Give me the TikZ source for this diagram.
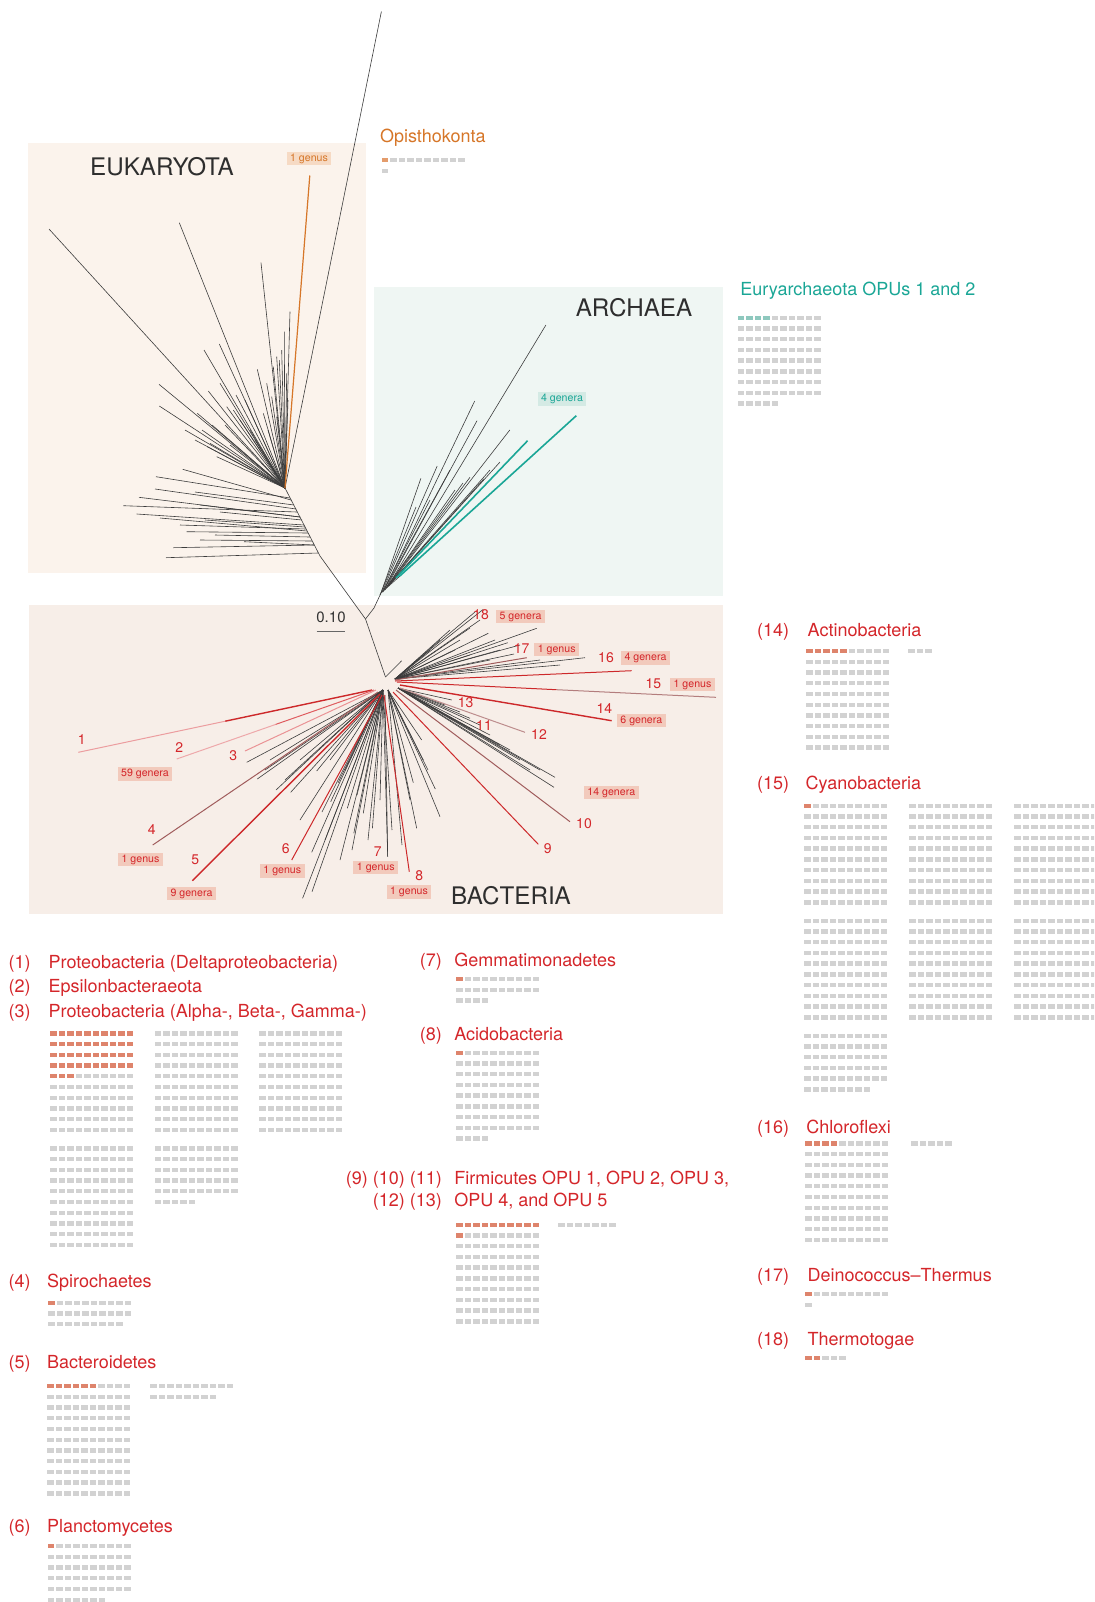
\documentclass[tikz,border=0pt]{standalone}
\usepackage{fontspec}
\setmainfont{TeX Gyre Heros}
\usetikzlibrary{positioning}

\definecolor{txtred}{RGB}{212,38,42}
\definecolor{sqred}{RGB}{222,132,108}
\definecolor{sqgray}{RGB}{210,210,210}
\definecolor{sqteal}{RGB}{142,200,190}
\definecolor{sqorange}{RGB}{228,156,108}
\definecolor{txtteal}{RGB}{26,166,150}
\definecolor{txtorange}{RGB}{214,118,40}
\definecolor{bgeuk}{RGB}{251,243,236}
\definecolor{bgarc}{RGB}{239,246,243}
\definecolor{bgbac}{RGB}{247,238,232}
\definecolor{lblred}{RGB}{242,202,188}
\definecolor{lblorange}{RGB}{246,218,196}
\definecolor{lblteal}{RGB}{212,234,228}
\definecolor{brgray}{RGB}{60,60,60}
\definecolor{brred}{RGB}{205,40,42}
\definecolor{brmix}{RGB}{160,92,92}

% one block of squares, 10 per row: x, y of first row, count, coloured count, colour
\newcommand{\sqblock}[5]{%
  \pgfmathtruncatemacro{\sqlast}{#3-1}%
  \foreach \i in {0,...,\sqlast}{%
    \pgfmathtruncatemacro{\sqc}{mod(\i,10)}%
    \pgfmathtruncatemacro{\sqr}{floor(\i/10)}%
    \ifnum\i<#4\relax\def\sqcol{#5}\else\def\sqcol{sqgray}\fi
    \fill[\sqcol] ({#1+\sqc*8.5},{#2+\sqr*10.74-2.2}) rectangle +(6.6,4.4);
  }%
}

\begin{document}
\begin{tikzpicture}[x=0.5pt,y=-0.5pt,
  bigtaxon/.style={font=\fontsize{12.1}{12}\selectfont, text=black!82, anchor=base, inner sep=0pt},
  title/.style={font=\fontsize{9}{10}\selectfont, text=txtred, anchor=base west, inner sep=0pt},
  numtag/.style={font=\fontsize{9}{10}\selectfont, text=txtred, inner sep=0pt},
  gen/.style={font=\fontsize{5.3}{6}\selectfont, fill=lblred, text=txtred, inner xsep=1.8pt, inner ysep=0.85pt, text height=3.9pt, text depth=1.1pt},
  brnum/.style={font=\fontsize{7}{8}\selectfont, text=txtred, inner sep=0pt},
  br/.style={draw=brgray, line width=0.3pt},
  brredline/.style={draw=brred, line width=0.5pt},
]
\clip (0,0) rectangle (1094,1602);

% domain boxes
\fill[bgeuk] (27.7,143) rectangle (366,573);
\fill[bgarc] (374,287) rectangle (723,596);
\fill[bgbac] (28.9,605) rectangle (723,914);

\node[bigtaxon] (euk) at (162,175.5) {EUKARYOTA};
\node[bigtaxon] (arc) at (634,316.5) {ARCHAEA};
\node[bigtaxon] (bac) at (511,904.5) {BACTERIA};

% tree
\coordinate (root) at (365.5,619);
\coordinate (ehub) at (285,488);
\coordinate (bhub) at (385.5,677);
\draw[br] (ehub) -- (320,556) -- (root);
\draw[br] (root) -- (374,608) -- (381,593) -- (400,576);
\draw[br] (root) -- (bhub);

% eukaryota
\draw[br] (ehub) -- (381.4,11.5);
\foreach \ex/\ey in {49/229, 179.3/222.7, 261/262.7, 290/311.7, 284.3/331.7, 276.7/356.7, 257.3/369.3, 219.3/344, 204/350, 208.3/391, 159/384.3, 159.3/406, 185/430, 207.3/446.7, 281.7/350, 279.3/360, 273.3/366.7, 266.7/383.3, 226.7/406.7, 220/383.3, 233.3/410, 197.3/413.3, 210/443.3, 216.7/456.7, 263.3/413.3, 271.7/396.7, 286.7/373.3, 276.7/416.7, 240/420, 250/430, 225/425, 195/440, 230/445, 255/440, 288/400, 245/400, 236/395, 212/425, 202/430, 268/430}
  \draw[br] (ehub) -- (\ex,\ey);
\foreach \sx/\sy/\ex/\ey in {290/498/156/476.7, 291/500/182.7/469.3, 300/517/139/497.3, 297/512/123.3/505.7, 304/525/136.7/514, 306/529/180/525, 308/533/186.7/531.7, 314/545/173.3/547.7, 318/553/166/557.7, 314/545/244/541.7, 296/509/155/489, 305/527/205/520, 300/517/200/505, 302/520/220/512, 310/537/215/535, 312/541/200/540, 294/505/195/492, 307/531/160/518}
  \draw[br] (\sx,\sy) -- (\ex,\ey);
\draw[txtorange, line width=0.6pt] (ehub) -- (309.8,175.5);
\node[gen, fill=lblorange, text=txtorange] (eukgen) at (309,158.5) {1 genus};

% archaea
\foreach \sx/\sy/\ex/\ey in {388/586/545.9/325, 383/592/474.7/401, 385/590/477/420.7, 390/584/509.8/430, 381/593/420.9/478.3, 382/592/437.2/466, 392/582/484/478.7, 388/586/470/477.3, 386/588/463/483, 380/595/416/507, 384/590/450/470, 387/587/455/490, 389/585/490/470, 391/583/500/462, 383/591/430/500}
  \draw[br] (\sx,\sy) -- (\ex,\ey);
\draw[txtteal, line width=0.8pt] (399.8,576) -- (576.3,415.7);
\draw[txtteal, line width=0.8pt] (396,578) -- (527.6,440.7);
\node[gen, fill=lblteal, text=txtteal] (arcgen) at (562,399) {4 genera};

% bacteria, grey branches
\foreach \ex/\ey in {246.7/762.3, 257.3/779, 302.6/898.3, 312/891.7, 353.8/833.3, 372.4/828.3, 347.3/808.3, 290.7/792.3, 316.7/771, 311.7/852.3, 330.7/801.7, 363.3/813.3, 276/790, 300/820, 325/840, 340/860, 387.7/856.7, 265/770, 285/780, 338/783, 322/812, 357/795, 368/840, 380/800, 392/830, 270/760, 300/760, 330/760, 345/770, 352/850}
  \draw[br] (383,690) -- (\ex,\ey);
\foreach \ex/\ey in {421.7/740, 440/816.7, 416.7/828.3, 435.3/789, 413.3/782.7, 423.3/760, 428/770, 402/845, 410/800}
  \draw[br] (388,690) -- (\ex,\ey);
\foreach \ex/\ey in {555/777.3, 554/787.3, 470/718.3, 451.7/700, 520/760, 510/750, 490/735, 540/770, 500/745, 480/725, 460/712, 445/705, 530/770}
  \draw[br] (398,688) -- (\ex,\ey);
\foreach \ex/\ey in {483.3/609.3, 536.7/628.3, 488.3/633.3, 507.7/642.7, 514/654, 585/657.7, 480/620, 470/628, 495/640, 460/640, 455/650, 500/650, 470/655, 520/645, 450/630, 475/612, 440/640, 430/650, 540/660, 560/665, 490/660}
  \draw[br] (395,679) -- (\ex,\ey);
\draw[br] (bhub) -- (401.7,660.7);

% bacteria, numbered branches
\draw[brredline, line width=0.7pt] (372,690) -- (225.2,721.2);
\draw[brredline, draw=txtred!45] (225.2,721.2) -- (78.3,752.3);
\draw[brredline, draw=txtred!75] (374,690) -- (275.4,724.5);
\draw[brredline, draw=txtred!40] (275.4,724.5) -- (176.7,759);
\draw[brredline, draw=txtred!50] (376,690) -- (245,751);
\draw[brredline, draw=brmix] (378,692) -- (152.7,845);
\draw[brredline, line width=0.7pt] (380,694) -- (192.3,880.7);
\draw[brredline] (382,695) -- (291.7,860);
\draw[br] (385,695) -- (387.7,856.7);
\draw[brredline] (384,695) -- (409.3,871.7);
\draw[brredline] (393,692) -- (538.3,844.3);
\draw[brredline, draw=brmix] (396,690) -- (570,821.7);
\draw[brredline, draw=brmix!70] (400,688) -- (525,732.3);
\draw[brredline, line width=0.7pt] (400,685) -- (611.7,720.7);
\draw[brredline] (397,682) -- (556.5,689.7);
\draw[brredline, draw=brmix!80] (556.5,689.7) -- (716,697.3);
\draw[brredline] (395,681) -- (631.7,670.7);
\draw[brredline, draw=brmix] (395,680) -- (526.7,657.7);

% branch numbers
\foreach \n/\nx/\ny in {1/81.7/739.3, 2/179.3/747.7, 3/233.3/756, 4/151.7/830, 5/195.3/859.3, 6/285.7/848.3, 7/377.7/852, 8/419.3/876, 9/547.7/848.3, 10/584/824, 11/484/726, 12/539/735, 13/465.7/702.3, 14/604.3/708.3, 15/653.3/684, 16/606/657.7, 17/521.7/648.3, 18/481/615}
  \node[brnum] (b\n) at (\nx,\ny) {\n};

% genus counts
\node[gen] (g1) at (145,774) {59 genera};
\node[gen] (g4) at (140.5,859.7) {1 genus};
\node[gen] (g5) at (191.5,893.5) {9 genera};
\node[gen] (g6) at (282.3,871) {1 genus};
\node[gen] (g7) at (375.8,867.5) {1 genus};
\node[gen] (g8) at (409,892) {1 genus};
\node[gen] (g9) at (611.3,792.5) {14 genera};
\node[gen] (g14) at (641.3,720.3) {6 genera};
\node[gen] (g15) at (692.5,684.3) {1 genus};
\node[gen] (g16) at (645.5,657.8) {4 genera};
\node[gen] (g17) at (556.7,649.2) {1 genus};
\node[gen] (g18) at (520.5,616.7) {5 genera};

% scale bar
\node[font=\fontsize{7.5}{8}\selectfont, text=black!80, inner sep=0pt] (scl) at (331,617) {0.10};
\draw[black!60, line width=0.5pt] (316.6,631.7) -- (345.4,631.7);

% outside-tree groups
\node[title, text=txtorange] (opis) at (379.6,142.5) {Opisthokonta};
\sqblock{381.8}{160}{11}{1}{sqorange}
\node[title, text=txtteal] (eury) at (740,295.8) {Euryarchaeota OPUs 1 and 2};
\sqblock{737.8}{317.7}{85}{4}{sqteal}

% left column
\node[numtag, anchor=base west] (t1n) at (8.3,968.2) {(1)};
\node[title] (t1) at (48.3,968.2) {Proteobacteria (Deltaproteobacteria)};
\node[numtag, anchor=base west] (t2n) at (8.3,992.5) {(2)};
\node[title] (t2) at (48.3,992.5) {Epsilonbacteraeota};
\node[numtag, anchor=base west] (t3n) at (8.3,1017.2) {(3)};
\node[title] (t3) at (48.3,1017.2) {Proteobacteria (Alpha-, Beta-, Gamma-)};
\sqblock{50}{1033.3}{100}{43}{sqred}
\sqblock{154.6}{1033.3}{100}{0}{sqred}
\sqblock{259.2}{1033.3}{100}{0}{sqred}
\sqblock{50}{1148.3}{100}{0}{sqred}
\sqblock{154.6}{1148.3}{55}{0}{sqred}

\node[numtag, anchor=base west] (t4n) at (8.3,1287.2) {(4)};
\node[title] (t4) at (46.7,1287.2) {Spirochaetes};
\sqblock{48.3}{1302.7}{29}{1}{sqred}

\node[numtag, anchor=base west] (t5n) at (8.3,1368.2) {(5)};
\node[title] (t5) at (46.7,1368.2) {Bacteroidetes};
\sqblock{47}{1386}{110}{6}{sqred}
\sqblock{150}{1386}{18}{0}{sqred}

\node[numtag, anchor=base west] (t6n) at (8.3,1532.2) {(6)};
\node[title] (t6) at (46.7,1532.2) {Planctomycetes};
\sqblock{47.5}{1546}{57}{1}{sqred}

% middle column
\node[numtag, anchor=base east] (t7n) at (442.3,966.5) {(7)};
\node[title] (t7) at (454,966.5) {Gemmatimonadetes};
\sqblock{456}{979}{24}{1}{sqred}

\node[numtag, anchor=base east] (t8n) at (442.3,1040.5) {(8)};
\node[title] (t8) at (454,1040.5) {Acidobacteria};
\sqblock{456}{1052.7}{84}{1}{sqred}

\node[numtag, anchor=base east] (t9n) at (442.3,1184.8) {(9) (10) (11)};
\node[title] (t9) at (454,1184.8) {Firmicutes OPU 1, OPU 2, OPU 3,};
\node[numtag, anchor=base east] (t12n) at (442.3,1206.5) {(12) (13)};
\node[title] (t12) at (454,1206.5) {OPU 4, and OPU 5};
\sqblock{456}{1224.7}{100}{11}{sqred}
\sqblock{558.3}{1224.7}{7}{0}{sqred}

% right column
\node[numtag, anchor=base west] (t14n) at (756.7,636.5) {(14)};
\node[title] (t14) at (807.3,636.5) {Actinobacteria};
\sqblock{806}{651}{100}{5}{sqred}
\sqblock{908}{651}{3}{0}{sqred}

\node[numtag, anchor=base west] (t15n) at (756.7,789.2) {(15)};
\node[title] (t15) at (805.3,789.2) {Cyanobacteria};
\sqblock{804.3}{805.7}{100}{1}{sqred}
\sqblock{909.3}{805.7}{100}{0}{sqred}
\sqblock{1014}{805.7}{100}{0}{sqred}
\sqblock{804.3}{920.7}{100}{0}{sqred}
\sqblock{909.3}{920.7}{100}{0}{sqred}
\sqblock{1014}{920.7}{100}{0}{sqred}
\sqblock{804.3}{1035.7}{58}{0}{sqred}

\node[numtag, anchor=base west] (t16n) at (756.7,1133.2) {(16)};
\node[title] (t16) at (806,1133.2) {Chloroflexi};
\sqblock{805.3}{1143.3}{100}{4}{sqred}
\sqblock{911}{1143.3}{5}{0}{sqred}

\node[numtag, anchor=base west] (t17n) at (756.7,1281.5) {(17)};
\node[title] (t17) at (807.3,1281.5) {Deinococcus--Thermus};
\sqblock{805}{1294}{11}{1}{sqred}

\node[numtag, anchor=base west] (t18n) at (756.7,1345.8) {(18)};
\node[title] (t18) at (807.3,1345.8) {Thermotogae};
\sqblock{805}{1357.7}{5}{2}{sqred}
\end{tikzpicture}
\end{document}
